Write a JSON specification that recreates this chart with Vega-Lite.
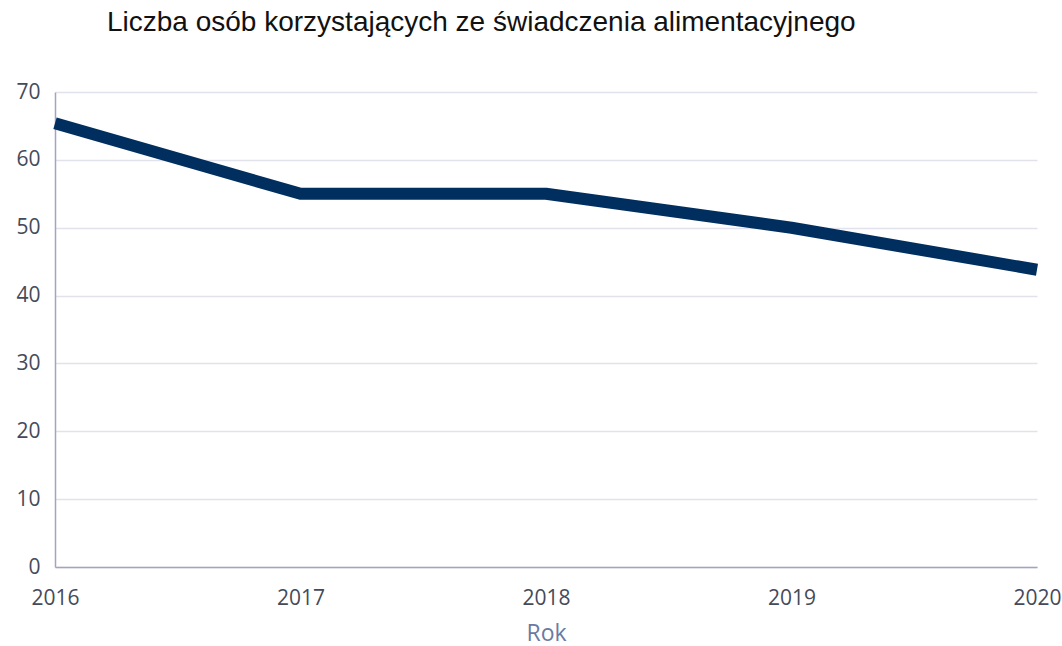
{
  "$schema": "https://vega.github.io/schema/vega-lite/v6.json",
  "width": 982,
  "height": 475,
  "autosize": {"type": "none"},
  "padding": {"left": 55, "top": 92, "right": 25, "bottom": 79},
  "background": "white",
  "title": {
    "text": "Liczba osób korzystających ze świadczenia alimentacyjnego",
    "anchor": "start",
    "frame": "group",
    "dx": 52,
    "offset": 44,
    "font": "Liberation Sans",
    "fontSize": 28,
    "fontWeight": "normal",
    "color": "#111111"
  },
  "data": {
    "values": [
      {"Rok": "2016", "Liczba": 65.4},
      {"Rok": "2017", "Liczba": 55},
      {"Rok": "2018", "Liczba": 55},
      {"Rok": "2019", "Liczba": 50},
      {"Rok": "2020", "Liczba": 43.8}
    ]
  },
  "mark": {"type": "line", "color": "#002f5f", "strokeWidth": 12, "strokeCap": "butt", "strokeJoin": "round", "clip": false},
  "encoding": {
    "x": {
      "field": "Rok",
      "type": "ordinal",
      "scale": {"type": "point", "padding": 0},
      "axis": {
        "title": "Rok",
        "titleFont": "Open Sans",
        "titleFontSize": 23,
        "titleFontWeight": "normal",
        "titleColor": "#6b7aa3",
        "titlePadding": 14,
        "labelAngle": 0,
        "labelFont": "Open Sans",
        "labelFontSize": 21,
        "labelColor": "#454a5a",
        "labelPadding": 20,
        "ticks": false,
        "grid": false,
        "domainColor": "#a3a3c4",
        "domainWidth": 1.5
      }
    },
    "y": {
      "field": "Liczba",
      "type": "quantitative",
      "scale": {"domain": [0, 70]},
      "axis": {
        "title": null,
        "values": [0, 10, 20, 30, 40, 50, 60, 70],
        "labelFont": "Open Sans",
        "labelFontSize": 21,
        "labelColor": "#454a5a",
        "labelPadding": 15,
        "ticks": false,
        "grid": true,
        "gridColor": "#e2e2ec",
        "gridWidth": 1.5,
        "domainColor": "#a3a3c4",
        "domainWidth": 1.5
      }
    }
  },
  "config": {"view": {"stroke": null}}
}
